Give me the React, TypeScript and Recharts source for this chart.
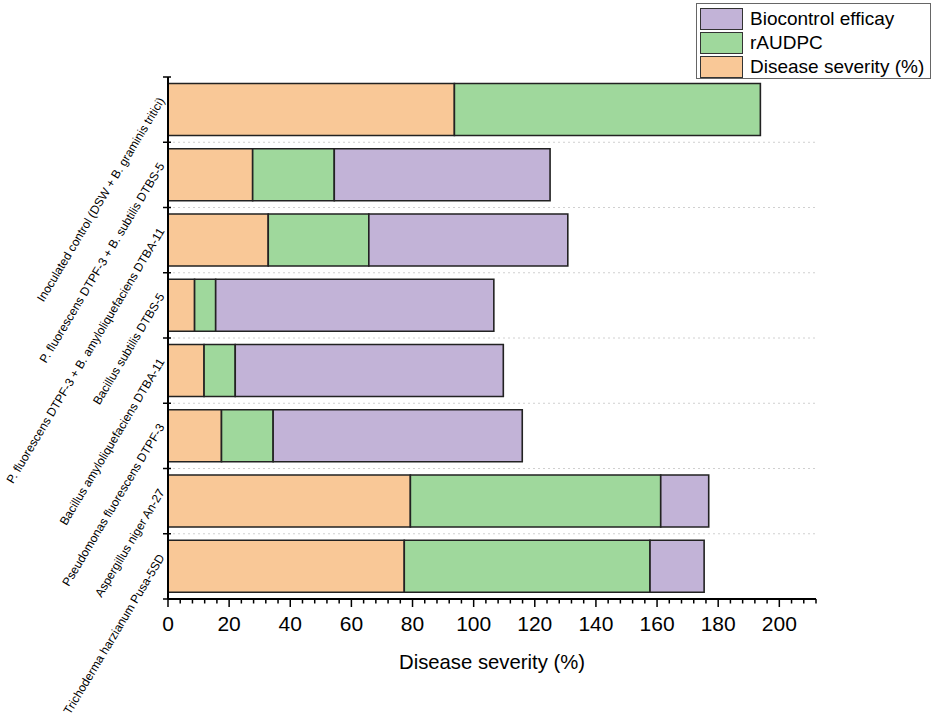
import React from 'react';
import { BarChart, Bar, XAxis, YAxis, CartesianGrid, Legend } from 'recharts';

const FONT = '"Liberation Sans", Arial, sans-serif';

const categories = [
  'Inoculated control (DSW + B. graminis tritici)',
  'P. fluorescens DTPF-3 + B. subtilis DTBS-5',
  'P. fluorescens DTPF-3 + B. amyloliquefaciens DTBA-11',
  'Bacillus subtilis DTBS-5',
  'Bacillus amyloliquefaciens DTBA-11',
  'Pseudomonas fluorescens DTPF-3',
  'Aspergillus niger An-27',
  'Trichoderma harzianum Pusa-5SD',
];

const diseaseSeverity = [93.7, 27.7, 32.8, 8.7, 11.8, 17.5, 79.3, 77.3];
const rAUDPC = [100.1, 26.7, 32.9, 6.9, 10.2, 16.9, 81.9, 80.4];
const biocontrolEfficacy = [0, 70.6, 65.1, 91.0, 87.7, 81.5, 15.7, 17.7];

// every 4 units a minor tick; multiples of 20 are labelled major ticks
const xTicks = [
  0, 4, 8, 12, 16, 20, 24, 28, 32, 36, 40, 44, 48, 52, 56, 60, 64, 68, 72, 76,
  80, 84, 88, 92, 96, 100, 104, 108, 112, 116, 120, 124, 128, 132, 136, 140,
  144, 148, 152, 156, 160, 164, 168, 172, 176, 180, 184, 188, 192, 196, 200,
  204, 208, 212,
];
const xMajorStep = 20;

const COLORS = { ds: '#F9C897', ra: '#9FD89C', bc: '#C2B3D7' };

const legendItems = [
  { label: 'Biocontrol efficay', color: COLORS.bc },
  { label: 'rAUDPC', color: COLORS.ra },
  { label: 'Disease severity (%)', color: COLORS.ds },
];

const data = categories.map((name, i) => ({
  name,
  ds: diseaseSeverity[i],
  ra: rAUDPC[i],
  bc: biocontrolEfficacy[i],
}));

const CategoryTick = (props: any) => {
  const { x, y, payload, index, height } = props;
  const band = (typeof height === 'number' && height > 0 ? height : 522) / categories.length;
  const half = band / 2;
  return (
    <g>
      <line x1={x - 5} x2={x + 3} y1={y - half} y2={y - half} stroke="#000" strokeWidth={1.5} />
      {index === categories.length - 1 && (
        <line x1={x - 5} x2={x + 3} y1={y + half} y2={y + half} stroke="#000" strokeWidth={1.5} />
      )}
      <g transform={`translate(${x - 3},${y - 9})`}>
        <text
          x={0}
          y={0}
          transform="rotate(-59)"
          textAnchor="end"
          fontSize={12}
          fill="#000"
          fontFamily={FONT}
        >
          {payload.value}
        </text>
      </g>
    </g>
  );
};

const XTick = (props: any) => {
  const { x, y, payload } = props;
  const major = payload.value % xMajorStep === 0;
  return (
    <g>
      <line x1={x} x2={x} y1={y} y2={y + (major ? 8 : 4.5)} stroke="#000" strokeWidth={1.5} />
      {major && (
        <text x={x} y={y + 32} textAnchor="middle" fontSize={21} fill="#000" fontFamily={FONT}>
          {payload.value}
        </text>
      )}
    </g>
  );
};

const LegendBox = () => (
  <div
    style={{
      border: '1px solid #666',
      background: '#fff',
      width: 235,
      height: 76,
      boxSizing: 'border-box',
      padding: '3px 0 0 3px',
      fontFamily: FONT,
      fontSize: 19,
      color: '#000',
    }}
  >
    {legendItems.map((it) => (
      <div
        key={it.label}
        style={{ display: 'flex', alignItems: 'center', height: 24.2, lineHeight: '22px' }}
      >
        <span
          style={{
            display: 'inline-block',
            width: 43,
            height: 22,
            background: it.color,
            border: '1.5px solid #333',
            boxSizing: 'border-box',
            marginRight: 7,
          }}
        />
        <span style={{ whiteSpace: 'nowrap' }}>{it.label}</span>
      </div>
    ))}
  </div>
);

export default function App() {
  return (
    <div style={{ position: 'absolute', left: 0, top: 0, width: 935, height: 719, background: '#fff' }}>
      <BarChart
        width={935}
        height={719}
        data={data}
        layout="vertical"
        margin={{ top: 77, right: 119, bottom: 119, left: 167 }}
        barCategoryGap="10%"
        style={{ fontFamily: FONT }}
      >
        <CartesianGrid
          vertical={false}
          stroke="#d0d0d0"
          strokeDasharray="2 3"
          horizontalCoordinatesGenerator={({ offset }: any) =>
            categories.slice(1).map((_, i) => offset.top + ((i + 1) * offset.height) / categories.length)
          }
        />
        <XAxis
          type="number"
          domain={[0, 212]}
          allowDataOverflow
          ticks={xTicks}
          interval={0}
          height={1}
          tickSize={0}
          tickMargin={0}
          axisLine={{ stroke: '#000', strokeWidth: 2 }}
          tickLine={false}
          tick={<XTick />}
          label={{
            value: 'Disease severity (%)',
            position: 'bottom',
            offset: 55,
            fontSize: 20.3,
            fill: '#000',
            fontFamily: FONT,
          }}
        />
        <YAxis
          type="category"
          dataKey="name"
          width={1}
          interval={0}
          axisLine={{ stroke: '#000', strokeWidth: 2 }}
          tickLine={false}
          tickSize={0}
          tickMargin={0}
          tick={<CategoryTick />}
        />
        <Legend
          layout="vertical"
          align="center"
          verticalAlign="middle"
          wrapperStyle={{ top: 3, left: 696, width: 235 }}
          content={() => <LegendBox />}
        />
        <Bar dataKey="ds" stackId="a" fill={COLORS.ds} stroke="#222" strokeWidth={1.6} isAnimationActive={false} />
        <Bar dataKey="ra" stackId="a" fill={COLORS.ra} stroke="#222" strokeWidth={1.6} isAnimationActive={false} />
        <Bar dataKey="bc" stackId="a" fill={COLORS.bc} stroke="#222" strokeWidth={1.6} isAnimationActive={false} />
      </BarChart>
    </div>
  );
}
